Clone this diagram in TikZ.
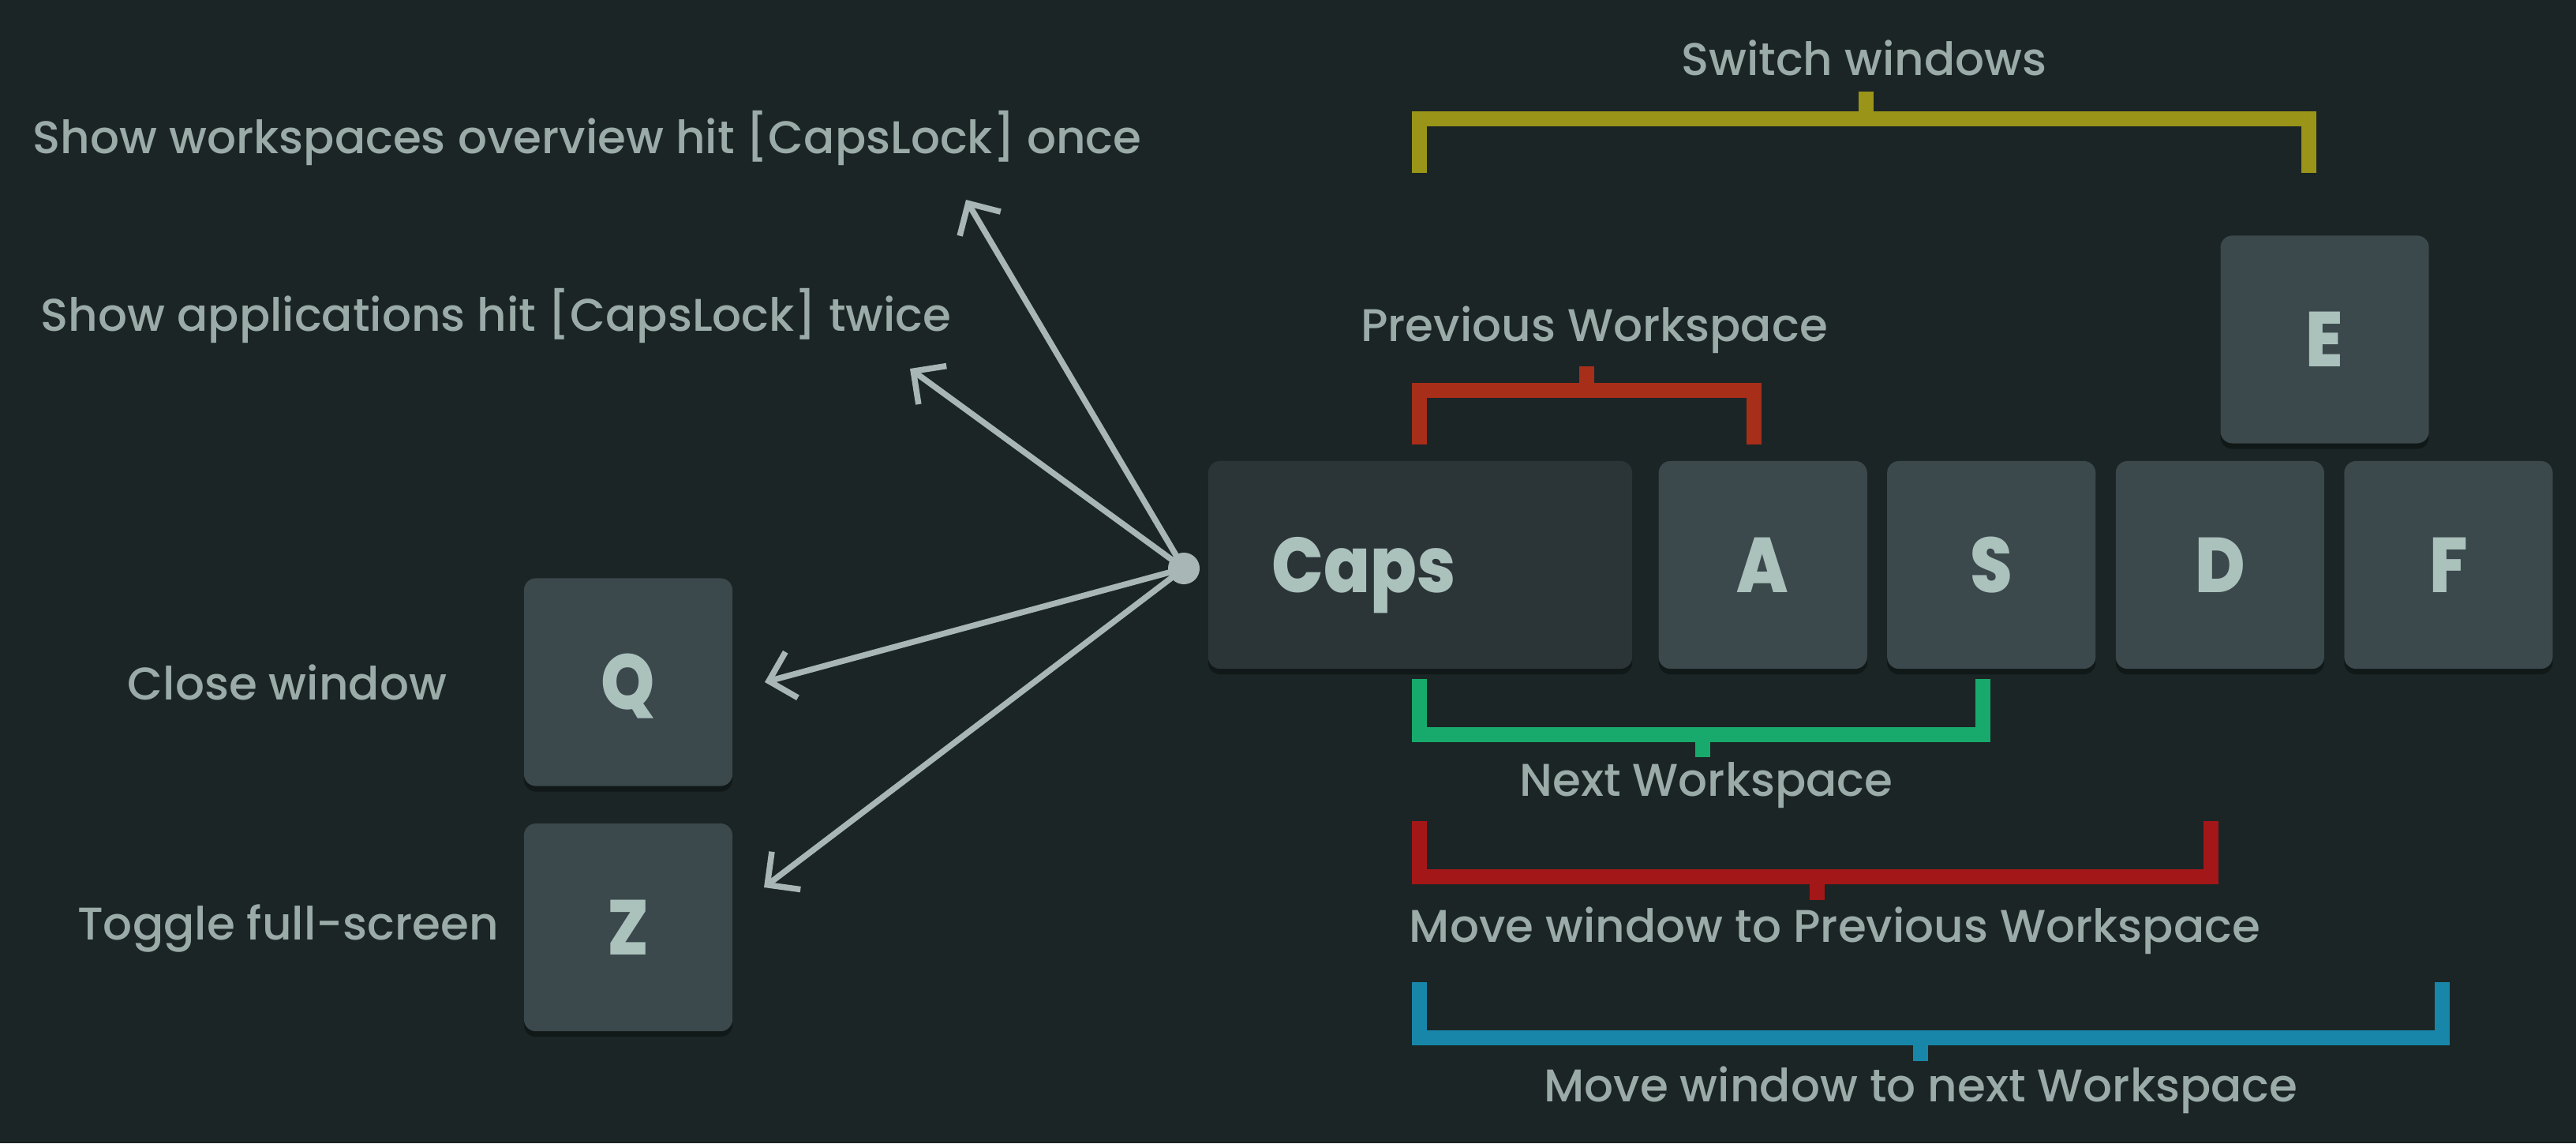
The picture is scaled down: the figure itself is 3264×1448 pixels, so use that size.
\documentclass[tikz,border=0pt]{standalone}
\usepackage{fontspec}
\setmainfont{Poppins}[UprightFont=* Medium, BoldFont=* Bold]
\newfontfamily\keyfont{Poppins}[UprightFont=* ExtraBold, FakeStretch=0.88]
\usetikzlibrary{positioning,arrows.meta,shadows}
\definecolor{bgcol}{HTML}{1B2526}
\definecolor{keycol}{HTML}{3B484C}
\definecolor{capscol}{HTML}{2B3538}
\definecolor{keytxt}{HTML}{ABC1BC}
\definecolor{labcol}{HTML}{9BABA8}
\definecolor{arrcol}{HTML}{A8B6B5}
\definecolor{yelcol}{HTML}{9A9418}
\definecolor{orgcol}{HTML}{A72E19}
\definecolor{grncol}{HTML}{17AA6C}
\definecolor{redcol}{HTML}{A41718}
\definecolor{blucol}{HTML}{1786A9}
\begin{document}
\begin{tikzpicture}[
  x=0.01cm, y=-0.01cm,
  keycap/.style = {rounded corners=0.15cm, fill=keycol, text=keytxt,
    minimum width=2.64cm, minimum height=2.63cm,
    font=\keyfont\fontsize{28}{32}\selectfont,
    text height=0.69cm, text depth=0pt,
    drop shadow={shadow xshift=0cm, shadow yshift=-0.07cm,
      opacity=0.35, fill=black}},
  capskey/.style = {keycap, fill=capscol, text width=3.75cm,
    inner xsep=0.81cm, align=left},
  lbl/.style = {text=labcol, font=\fontsize{16.5}{20}\selectfont, inner sep=0pt},
  brk/.style = {line width=0.19cm, line cap=butt, line join=miter},
  hint/.style = {draw=arrcol, line width=0.075cm,
    -{Straight Barb[length=0.3cm, width=0.6cm]}},
  node distance=0.24cm
  ]
  % background
  \fill[bgcol] (0,0) rectangle (3264,1448);

  % home row
  \node[capskey] (caps) at (1799.5,715.5) {Caps};
  \node[keycap, right=0.32cm of caps] (a) {A};
  \node[keycap, right=of a] (s) {S};
  \node[keycap, right=of s] (d) {D};
  \node[keycap, right=of d] (f) {F};
  \node[keycap, above=0.21cm of d.north east] (e) {E};

  % left keys
  \node[keycap] (q) at (796,864) {Q};
  \node[keycap, below=0.46cm of q] (z) {Z};

  % arrows from capslock
  \node[circle, fill=arrcol, minimum size=0.4cm, inner sep=0pt] (hub) at (1500,720) {};
  \coordinate (overview) at (1224,253);
  \coordinate (apps) at (1153,467);
  \coordinate (close) at (969,864);
  \coordinate (full) at (968,1124);
  \foreach \t in {overview,apps,close,full}
    \draw[hint] (hub.center) -- (\t);

  % brackets
  \draw[brk, draw=yelcol] (1798,219) |- (2925,150) -- (2925,219) (2364,150) -- (2364,116);
  \draw[brk, draw=orgcol] (1798,563) |- (2222,494) -- (2222,563) (2010,494) -- (2010,464);
  \draw[brk, draw=grncol] (1798,860) |- (2512,930) -- (2512,860) (2157,930) -- (2157,959);
  \draw[brk, draw=redcol] (1798,1040) |- (2801,1110) -- (2801,1040) (2302,1110) -- (2302,1140);
  \draw[brk, draw=blucol] (1798,1244) |- (3094,1314) -- (3094,1244) (2433,1314) -- (2433,1344);

  % labels
  \node[lbl, anchor=base] (switch) at (2362,95) {Switch windows};
  \node[lbl, anchor=base] (prevws) at (2020,432) {Previous Workspace};
  \node[lbl, anchor=base] (nextws) at (2162,1008) {Next Workspace};
  \node[lbl, anchor=base] (moveprev) at (2325,1193) {Move window to Previous Workspace};
  \node[lbl, anchor=base] (movenext) at (2434,1395) {Move window to next Workspace};
  \node[lbl, anchor=base west] (overviewtxt) at (41,194) {Show workspaces overview hit [CapsLock] once};
  \node[lbl, anchor=base west] (appstxt) at (51,419) {Show applications hit [CapsLock] twice};
  \node[lbl, anchor=base] (closetxt) at (364,886) {Close window};
  \node[lbl, anchor=base] (fulltxt) at (365,1190) {Toggle full-screen};
\end{tikzpicture}
\end{document}
